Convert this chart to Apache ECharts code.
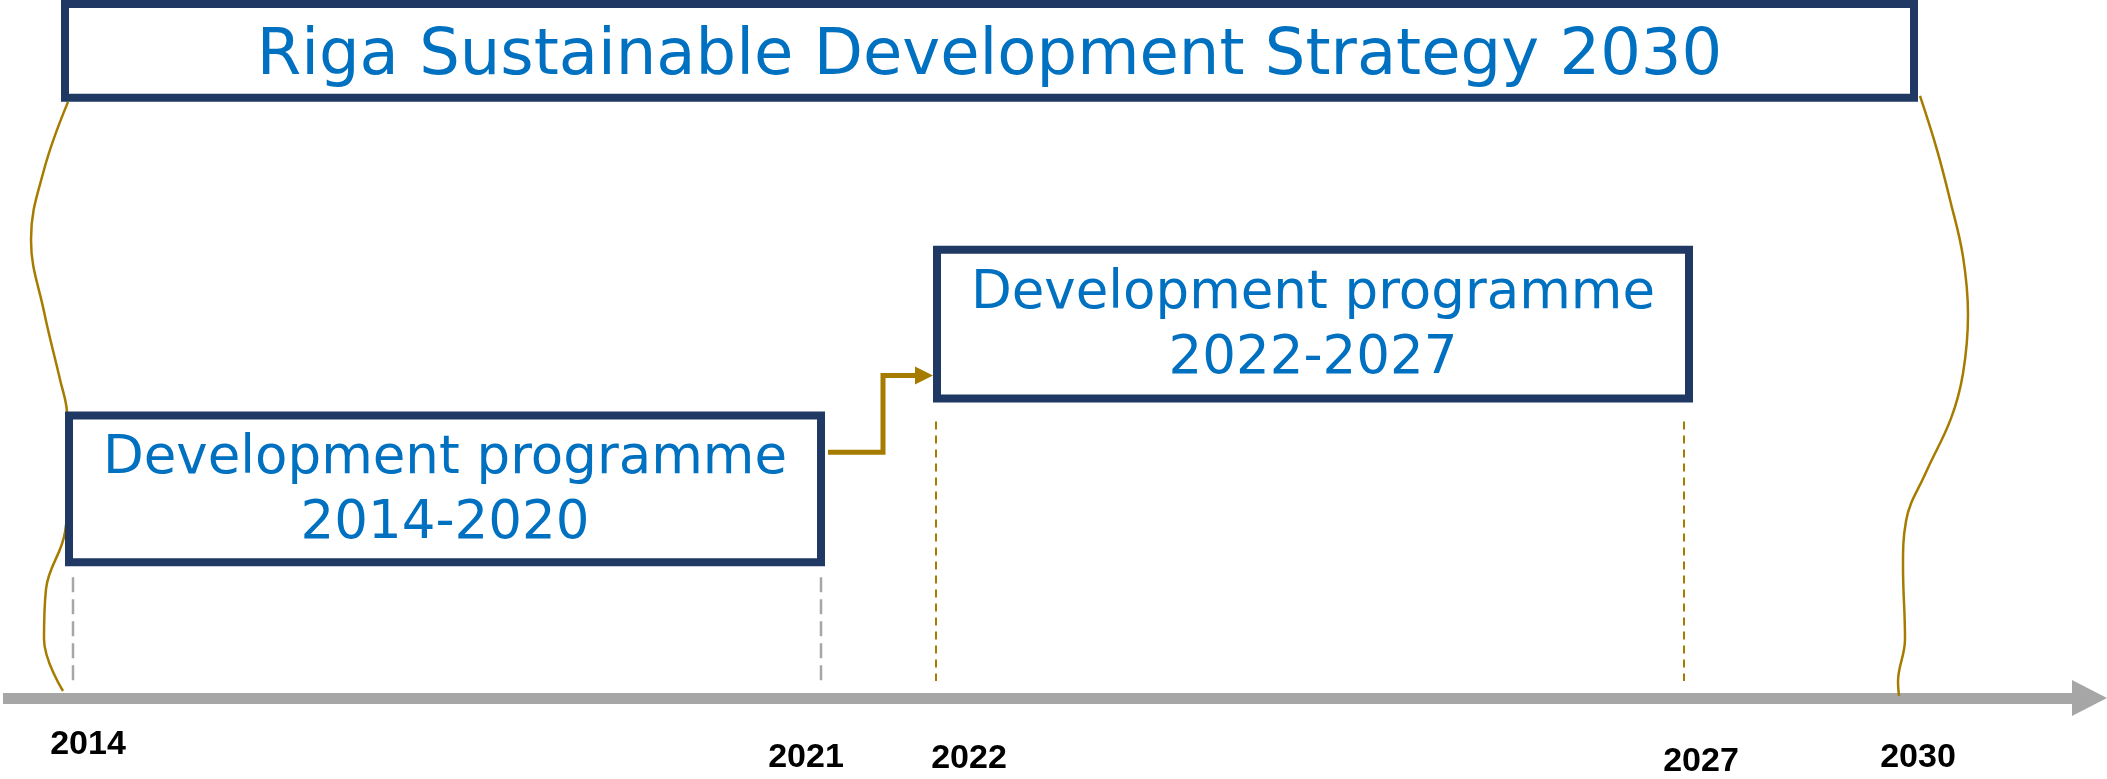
<!DOCTYPE html>
<html>
<head>
<meta charset="utf-8">
<title>Riga Sustainable Development Strategy 2030</title>
<script src="https://cdn.jsdelivr.net/npm/echarts@6/dist/echarts.min.js"></script>
<style>
  html, body { margin: 0; padding: 0; background: #fff; }
  #chart { width: 2107px; height: 779px; }
</style>
</head>
<body>
<div id="chart"></div>
<script>
// diagram units: pixels of the drawing, y counted down from the top edge
const yearLabels = ['2014', '2021', '2022', '2027', '2030']
const yearPos = [88, 806, 969, 1701, 1918]

const boxNames = [
  'Riga Sustainable Development Strategy 2030',
  'Development programme\n2014-2020',
  'Development programme\n2022-2027'
]
const boxLeft = [65, 69, 937]
const boxRight = [1914, 821, 1689]
const boxTop = [4, 416, 250]
const boxBottom = [98, 563, 399]

const guideX = [73, 821, 936, 1684]
const guideTop = [578, 578, 422, 422]
const guideBottom = [682, 682, 682, 682]

const leftBrace = [
  [68, 102], [44, 170], [31, 240], [44, 312], [60, 380], [67, 412],
  [69, 470], [65, 533], [46, 590], [44, 640], [63, 692]
]
const rightBrace = [
  [1920, 96], [1937, 150], [1950, 200], [1963, 257], [1968, 315], [1963, 374], [1951, 419],
  [1926, 473], [1906, 522], [1903, 567], [1905, 640], [1898, 683], [1899, 697]
]
const connector = [[828, 453], [883, 453], [883, 376], [924, 376]]

const navy = '#1F3864'
const blue = '#0070C0'
const gold = '#A67C00'
const grey = '#A6A6A6'

const chart = echarts.init(document.getElementById('chart'))

chart.setOption({
  backgroundColor: '#fff',
  animation: false,
  grid: { left: 3, right: 17.5, top: 0, bottom: 80 },
  xAxis: {
    type: 'value',
    min: 3,
    max: 2089.5,
    splitLine: { show: false },
    axisTick: { show: false },
    axisLine: {
      show: true,
      onZero: false,
      symbol: ['none', 'triangle'],
      symbolSize: [36, 35],
      lineStyle: { color: grey, width: 11, cap: 'butt' }
    },
    axisLabel: {
      customValues: yearPos,
      margin: 30,
      formatter: function (value) {
        const label = yearLabels[yearPos.indexOf(value)]
        return '{y' + label + '|' + label + '}'
      },
      rich: {
        y2014: { fontFamily: 'Liberation Sans', fontWeight: 'bold', fontSize: 34, color: '#000' },
        y2021: { fontFamily: 'Liberation Sans', fontWeight: 'bold', fontSize: 34, color: '#000', padding: [13, 0, 0, 0] },
        y2022: { fontFamily: 'Liberation Sans', fontWeight: 'bold', fontSize: 34, color: '#000', padding: [14, 0, 0, 0] },
        y2027: { fontFamily: 'Liberation Sans', fontWeight: 'bold', fontSize: 34, color: '#000', padding: [17, 0, 0, 0] },
        y2030: { fontFamily: 'Liberation Sans', fontWeight: 'bold', fontSize: 34, color: '#000', padding: [13, 0, 0, 0] }
      }
    }
  },
  yAxis: {
    type: 'value',
    min: 0,
    max: 699,
    inverse: true,
    show: false
  },
  series: [
    {
      name: 'left brace',
      type: 'line',
      smooth: 0.4,
      showSymbol: false,
      z: 1,
      lineStyle: { color: gold, width: 2.5 },
      data: leftBrace
    },
    {
      name: 'right brace',
      type: 'line',
      smooth: 0.4,
      showSymbol: false,
      z: 1,
      lineStyle: { color: gold, width: 2.5 },
      data: rightBrace
    },
    {
      name: 'guides',
      type: 'custom',
      z: 2,
      data: guideX.map((x, i) => [x, guideTop[i], guideBottom[i], i]),
      renderItem(params, api) {
        const top = api.coord([api.value(0), api.value(1)])
        const bottom = api.coord([api.value(0), api.value(2)])
        const isGold = api.value(3) >= 2
        return {
          type: 'line',
          shape: { x1: top[0], y1: top[1], x2: bottom[0], y2: bottom[1] },
          style: {
            stroke: isGold ? gold : grey,
            lineWidth: isGold ? 2 : 2.5,
            lineDash: isGold ? [8, 6] : [15, 7]
          }
        }
      }
    },
    {
      name: 'connector',
      type: 'line',
      z: 3,
      lineStyle: { color: gold, width: 5, cap: 'butt', join: 'miter' },
      itemStyle: { color: gold },
      data: connector.map((p, i) => i === connector.length - 1
        ? { value: p, symbol: 'triangle', symbolSize: [18, 18], symbolRotate: -90 }
        : { value: p, symbol: 'none' })
    },
    {
      name: 'boxes',
      type: 'custom',
      z: 4,
      data: boxNames.map((n, i) => [boxLeft[i], boxRight[i], boxTop[i], boxBottom[i]]),
      renderItem(params, api) {
        const i = params.dataIndex
        const p0 = api.coord([api.value(0), api.value(2)])
        const p1 = api.coord([api.value(1), api.value(3)])
        const isTitle = i === 0
        return {
          type: 'group',
          children: [
            {
              type: 'rect',
              shape: { x: p0[0], y: p0[1], width: p1[0] - p0[0], height: p1[1] - p0[1] },
              style: { fill: '#fff', stroke: navy, lineWidth: 8 }
            },
            {
              type: 'text',
              x: (p0[0] + p1[0]) / 2,
              y: (p0[1] + p1[1]) / 2 + (isTitle ? 6 : 3),
              style: {
                text: boxNames[i],
                fill: blue,
                font: (isTitle ? 64 : 53) + 'px "DejaVu Sans"',
                lineHeight: 65,
                align: 'center',
                verticalAlign: 'middle'
              }
            }
          ]
        }
      }
    }
  ]
})
</script>
</body>
</html>
